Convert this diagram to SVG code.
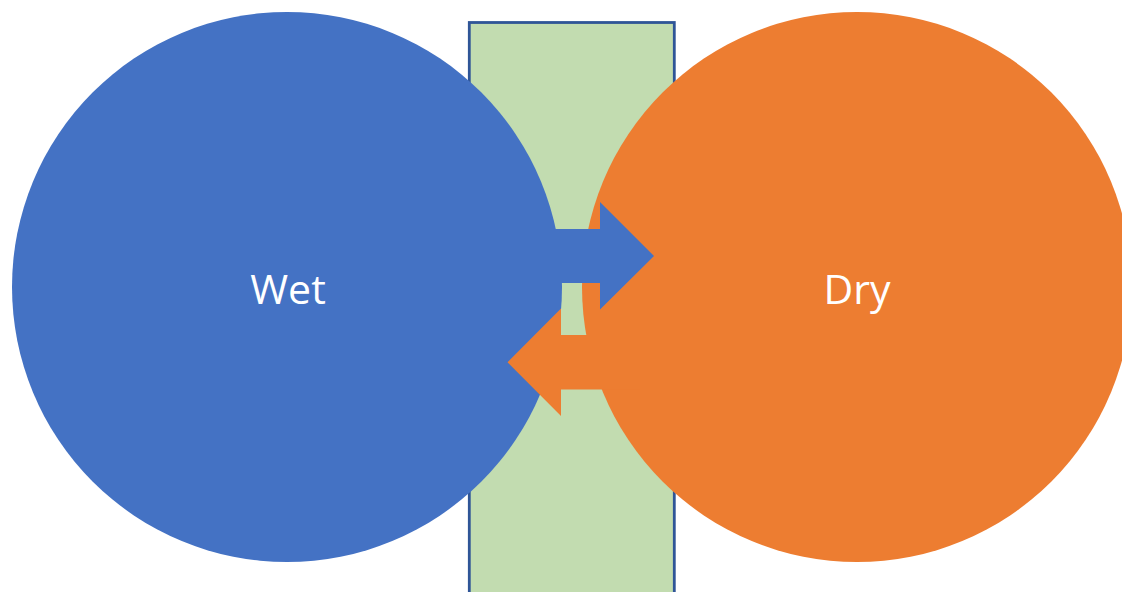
<svg xmlns="http://www.w3.org/2000/svg" width="1122" height="592" viewBox="0 0 1122 592">
<style>
.lbl{font-family:"Open Sans","Liberation Sans",sans-serif;font-size:41px;fill:#FFFFFF;text-anchor:middle;dominant-baseline:central}
</style>
<rect width="1122" height="592" fill="#FFFFFF"/>
<g id="barrier"><rect x="469.3" y="22.5" width="205" height="600" fill="#C2DCB0" stroke="#2F5597" stroke-width="2.8"/></g>
<g id="wet"><circle cx="287" cy="287" r="275" fill="#4472C4"/><text class="lbl" x="288" y="288">Wet</text></g>
<g id="dry"><circle cx="857" cy="287" r="275" fill="#ED7D31"/><text class="lbl" x="857" y="288">Dry</text></g>
<g id="connectors">
<polygon points="520,229 600,229 600,202 654,256 600,309.5 600,283 520,283" fill="#4472C4"/>
<polygon points="640,335 561,335 561,308.5 507.5,362.3 561,416 561,389.5 640,389.5" fill="#ED7D31"/>
</g>
</svg>
